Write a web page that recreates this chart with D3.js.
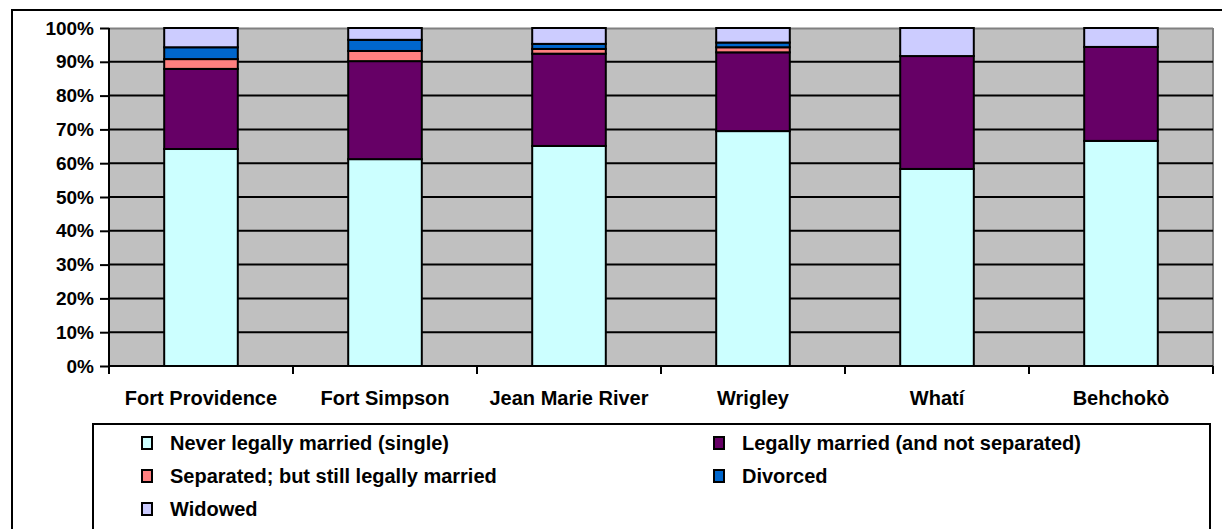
<!DOCTYPE html>
<html><head><meta charset="utf-8">
<script src="https://cdn.jsdelivr.net/npm/d3@7"></script>
<style>body{margin:0;background:#fff}svg{display:block}text{font-family:"Liberation Sans",Arial,sans-serif;font-weight:bold;fill:#000}</style>
</head><body>
<svg id="c" width="1222" height="529"></svg>
<script>
const categories = ["Fort Providence","Fort Simpson","Jean Marie River","Wrigley","Whatí","Behchokò"];
const seriesNames = ["Never legally married (single)","Legally married (and not separated)","Separated; but still legally married","Divorced","Widowed"];
const single    = [64.2, 61.2, 65.1, 69.5, 58.3, 66.6];
const married   = [23.7, 29.0, 27.3, 23.3, 33.4, 27.8];
const separated = [2.9, 3.0, 1.4, 1.5, 0, 0];
const divorced  = [3.5, 3.3, 1.5, 1.4, 0, 0];
const widowed   = [5.7, 3.5, 4.7, 4.3, 8.3, 5.6];
const yTicks = [0,10,20,30,40,50,60,70,80,90,100];
const colors = ["#CCFFFF","#660066","#FF8080","#0066CC","#CCCCFF"];

const svg = d3.select("#c");
const L=109,R=1213,T=28,B=366;
svg.append("rect").attr("x",12).attr("y",10).attr("width",1222).attr("height",600).attr("fill","#fff").attr("stroke","#000").attr("stroke-width",2);

const xb = d3.scaleBand().domain(categories).range([L,R]);
const y = d3.scaleLinear().domain([0,100]).range([B,T]);

svg.append("rect").attr("x",L).attr("y",T).attr("width",R-L).attr("height",B-T).attr("fill","#C0C0C0");
svg.append("line").attr("x1",L).attr("x2",R).attr("y1",T+0.5).attr("y2",T+0.5).attr("stroke","#808080").attr("stroke-width",2);
svg.append("line").attr("x1",R).attr("x2",R).attr("y1",T).attr("y2",B).attr("stroke","#808080").attr("stroke-width",2);
svg.append("g").selectAll("line").data(yTicks.filter(d=>d>0&&d<100)).join("line")
  .attr("x1",L).attr("x2",R).attr("y1",d=>y(d)).attr("y2",d=>y(d)).attr("stroke","#000").attr("stroke-width",2);

const table = categories.map((c,i)=>({cat:c,s0:single[i],s1:married[i],s2:separated[i],s3:divorced[i],s4:widowed[i]}));
const stack = d3.stack().keys(["s0","s1","s2","s3","s4"])(table);
const bw = xb.bandwidth()/2.5;
stack.forEach((layer,k)=>{
  svg.append("g").selectAll("rect").data(layer.filter(d=>d[1]-d[0]>0)).join("rect")
    .attr("x",d=>xb(d.data.cat)+xb.bandwidth()/2-bw/2).attr("width",bw)
    .attr("y",d=>y(d[1])).attr("height",d=>y(d[0])-y(d[1]))
    .attr("fill",colors[k]).attr("stroke","#000").attr("stroke-width",2);
});

const ya = svg.append("g").attr("transform",`translate(${L},0)`)
  .call(d3.axisLeft(y).tickValues(yTicks).tickFormat(d=>d+"%").tickSize(9).tickPadding(6));
ya.select(".domain").attr("stroke","#000").attr("stroke-width",2).attr("d",`M0,${T}V${B}`);
ya.selectAll(".tick line").attr("stroke","#000").attr("stroke-width",2);
ya.selectAll("text").style("font-size","19px").style("font-family","Liberation Sans, Arial, sans-serif").style("font-weight","bold");

const boundaries = categories.map(c=>xb(c)).concat([R]);
const xa = svg.append("g").attr("transform",`translate(0,${B})`);
xa.append("line").attr("x1",L).attr("x2",R).attr("y1",0).attr("y2",0).attr("stroke","#000").attr("stroke-width",2);
xa.selectAll("line.t").data(boundaries).join("line").attr("class","t")
  .attr("x1",d=>d).attr("x2",d=>d).attr("y1",0).attr("y2",8).attr("stroke","#000").attr("stroke-width",2);
xa.selectAll("text").data(categories).join("text")
  .attr("x",d=>xb(d)+xb.bandwidth()/2).attr("y",39).attr("text-anchor","middle")
  .style("font-size","20px").text(d=>d);

svg.append("rect").attr("x",93).attr("y",424).attr("width",1117).attr("height",200).attr("fill","#fff").attr("stroke","#000").attr("stroke-width",2);
const legPos = [[142,443],[714,443],[142,476],[714,476],[142,509]];
seriesNames.forEach((n,i)=>{
  const [lx,ly]=legPos[i];
  svg.append("rect").attr("x",lx).attr("y",ly-6).attr("width",10).attr("height",12).attr("fill",colors[i]).attr("stroke","#000").attr("stroke-width",2);
  svg.append("text").attr("x",lx+28).attr("y",ly+7).style("font-size","20px").text(n);
});
</script>
</body></html>
